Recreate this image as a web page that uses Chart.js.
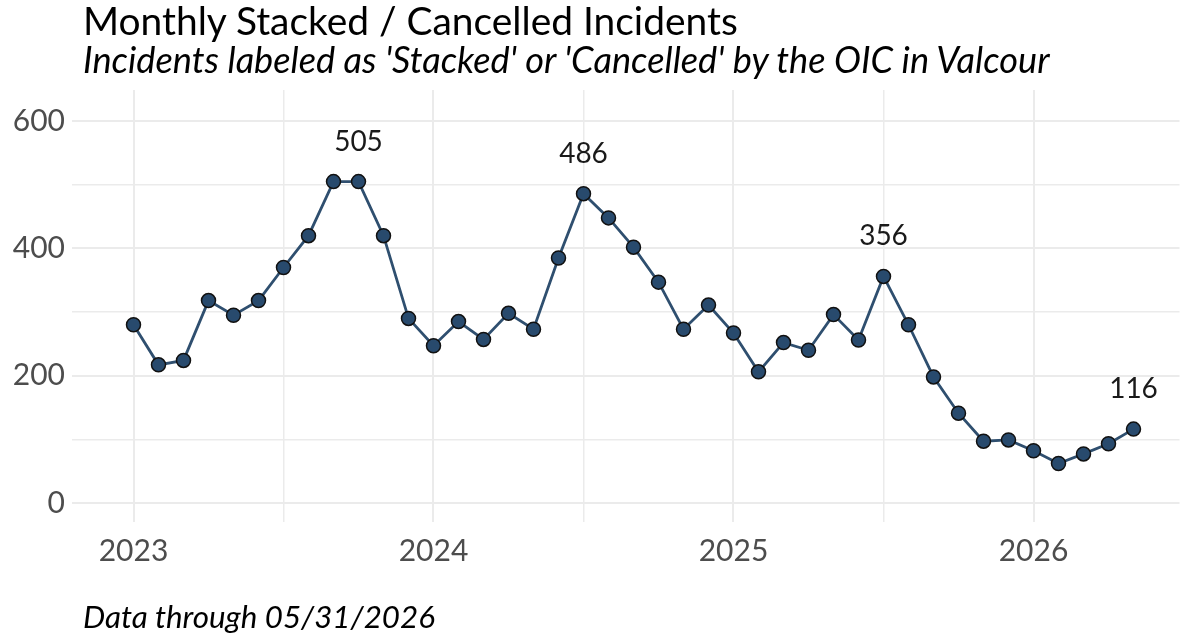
<!DOCTYPE html>
<html>
<head>
<meta charset="utf-8">
<script src="https://cdn.jsdelivr.net/npm/chart.js@4.4.1/dist/chart.umd.min.js"></script>
<style>
  html, body { margin: 0; padding: 0; background: #fff; }
  #wrap { position: relative; width: 1188px; height: 636px; font-family: Lato, sans-serif; }
  canvas { position: absolute; left: 0; top: 0; }
  .txt { position: absolute; left: 83px; white-space: nowrap; color: #000; line-height: 1.2; }
  #subtitle, #caption { font-style: italic; }
</style>
</head>
<body>
<div id="wrap">
  <canvas id="chart" width="1188" height="636"></canvas>
  <div class="txt" id="title">Monthly Stacked / Cancelled Incidents</div>
  <div class="txt" id="subtitle">Incidents labeled as 'Stacked' or 'Cancelled' by the OIC in Valcour</div>
  <div class="txt" id="caption">Data through 05/31/2026</div>
</div>
<script>
// months since Jan 2023
const months = [
  "2023-01", "2023-02", "2023-03", "2023-04", "2023-05", "2023-06",
  "2023-07", "2023-08", "2023-09", "2023-10", "2023-11", "2023-12",
  "2024-01", "2024-02", "2024-03", "2024-04", "2024-05", "2024-06",
  "2024-07", "2024-08", "2024-09", "2024-10", "2024-11", "2024-12",
  "2025-01", "2025-02", "2025-03", "2025-04", "2025-05", "2025-06",
  "2025-07", "2025-08", "2025-09", "2025-10", "2025-11", "2025-12",
  "2026-01", "2026-02", "2026-03", "2026-04", "2026-05"
]
const incidents = [
  280, 217, 224, 318, 295, 318, 370, 420, 505, 505, 420, 290,
  247, 285, 257, 298, 273, 385, 486, 448, 402, 347, 273, 311,
  267, 206, 252, 240, 296, 256, 356, 280, 198, 141, 97, 99,
  82, 62, 77, 93, 116
]
const labeledMonths = ["2023-10", "2024-07", "2025-07", "2026-05"]
const yearTicks = ["2023", "2024", "2025", "2026"]
const yTickLabels = [0, 200, 400, 600]

// size the header / caption text to the reference widths, then set baselines
function fitText(id, width, baseline) {
  const el = document.getElementById(id)
  el.style.fontSize = "30px"
  const size = 30 * width / el.getBoundingClientRect().width
  el.style.fontSize = size + "px"
  el.style.top = (baseline - size * 0.987) + "px"
}
fitText("title", 655, 35)
fitText("subtitle", 967, 74)
fitText("caption", 352, 629)

const points = incidents.map((value, index) => ({ x: index, y: value }))

const pointLabels = {
  id: "pointLabels",
  afterDatasetsDraw(chart) {
    const { ctx, scales } = chart
    ctx.save()
    ctx.font = "28px Lato, sans-serif"
    ctx.fillStyle = "#1a1a1a"
    ctx.textAlign = "center"
    ctx.textBaseline = "middle"
    labeledMonths.forEach((month) => {
      const index = months.indexOf(month)
      const x = scales.x.getPixelForValue(index)
      const y = scales.y.getPixelForValue(incidents[index])
      ctx.fillText(String(incidents[index]), x, y - 40)
    })
    ctx.restore()
  }
}

const gridColor = "#ebebeb"
const tickFont = { family: "Lato, sans-serif", size: 30 }

new Chart(document.getElementById("chart"), {
  type: "line",
  data: {
    datasets: [
      {
        data: points,
        borderColor: "#2f4f6f",
        borderWidth: 2.8,
        pointBackgroundColor: "#284a6d",
        pointBorderColor: "#111111",
        pointBorderWidth: 1.5,
        pointRadius: 7,
        tension: 0
      }
    ]
  },
  options: {
    responsive: false,
    animation: false,
    layout: { padding: { top: 90, right: 0, bottom: 0, left: 0 } },
    plugins: {
      legend: { display: false },
      tooltip: { enabled: false }
    },
    scales: {
      x: {
        type: "linear",
        min: -2.46,
        max: 41.84,
        border: { display: false },
        grid: {
          color: gridColor,
          drawTicks: false,
          lineWidth: (c) => (c.tick && c.tick.value % 12 === 0 ? 2 : 1.5)
        },
        ticks: {
          stepSize: 6,
          includeBounds: false,
          padding: 11,
          color: "#4d4d4d",
          font: tickFont,
          maxRotation: 0,
          autoSkip: false,
          callback: (value) => (value % 12 === 0 ? yearTicks[value / 12] : "")
        },
        afterFit: (scale) => { scale.height = 114 }
      },
      y: {
        min: -30,
        max: 649,
        border: { display: false },
        grid: {
          color: gridColor,
          drawTicks: false,
          lineWidth: (c) => (c.tick && c.tick.value % 200 === 0 ? 2 : 1.5)
        },
        ticks: {
          stepSize: 100,
          includeBounds: false,
          padding: 7,
          color: "#4d4d4d",
          font: tickFont,
          callback: (value) => (yTickLabels.includes(value) ? String(value) : "")
        },
        afterFit: (scale) => { scale.width = 72 }
      }
    }
  },
  plugins: [pointLabels]
})
</script>
</body>
</html>
